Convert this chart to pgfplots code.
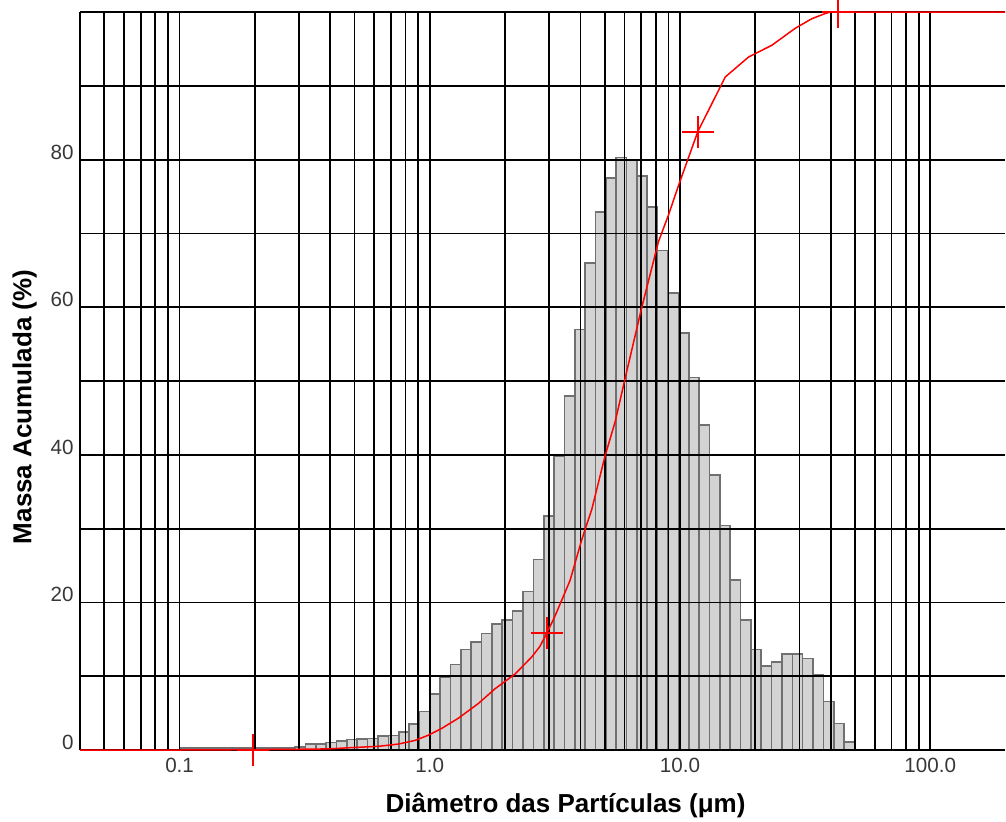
\documentclass[border=0pt]{standalone}
\usepackage{pgfplots}
\pgfplotsset{compat=1.18}
\usepackage{fontspec}
\setmainfont{Liberation Sans}
\definecolor{barfill}{RGB}{211,211,211}
\definecolor{baredge}{RGB}{112,112,112}
\definecolor{ticktext}{RGB}{55,55,55}
\begin{document}
\begin{tikzpicture}
\begin{axis}[
  set layers,
  xmode=log,
  scale only axis,
  width=462.5pt, height=369pt,
  xmin=0.04, xmax=199,
  ymin=0, ymax=100,
  axis x line*=bottom, axis y line*=left,
  axis line style={-, black, line width=0.9pt},
  xtick={0.1,1,10,100},
  xticklabels={0.1,1.0,10.0,100.0},
  minor xtick={0.05,0.06,0.07,0.08,0.09,0.2,0.3,0.4,0.5,0.6,0.7,0.8,0.9,2,3,4,5,6,7,8,9,20,30,40,50,60,70,80,90},
  ytick={0,10,20,30,40,50,60,70,80,90,100},
  yticklabels={0,,20,,40,,60,,80,,},
  grid=both,
  major grid style={black, line width=0.9pt},
  minor grid style={black, line width=0.9pt},
  major tick length=0pt, minor tick length=0pt,
  xticklabel style={font=\fontsize{10.3}{12}\selectfont, text=ticktext, anchor=north, inner sep=0pt, yshift=-4pt},
  yticklabel style={font=\fontsize{10.3}{12}\selectfont, text=ticktext, anchor=south east, inner sep=0pt, xshift=-3pt},
  xlabel={Diâmetro das Partículas (μm)},
  ylabel={Massa Acumulada (\%)},
  xlabel style={font=\fontsize{13}{15}\selectfont\bfseries, at={(axis description cs:0.525,0)}, anchor=north, inner sep=0pt, yshift=-21.5pt},
  ylabel style={font=\fontsize{13}{15}\selectfont\bfseries, at={(axis description cs:-0.0735,0.465)}, anchor=north, inner sep=0pt},
  clip=false,
]
\addplot[ybar interval, fill=barfill, draw=baredge, line width=0.8pt, on layer=axis background] coordinates {
(0.10153,0.3) (0.11168,0.3) (0.12285,0.3) (0.13513,0.3) (0.14864,0.3) (0.16351,0.3) (0.17986,0.3) (0.19784,0.3) (0.21763,0.3) (0.23939,0.3) (0.26333,0.3) (0.28966,0.4) (0.31863,0.8) (0.35049,0.8) (0.38554,1.0) (0.42410,1.25) (0.46651,1.45) (0.51316,1.5) (0.56447,1.55) (0.62092,1.9) (0.68301,1.95) (0.75131,2.4) (0.82645,3.5) (0.90909,5.2) (1,7.6) (1.1,9.8) (1.21,11.6) (1.331,13.6) (1.4641,14.6) (1.6105,15.8) (1.7716,17.1) (1.9487,17.6) (2.1436,18.8) (2.3579,21.5) (2.5937,25.8) (2.8531,31.7) (3.1384,39.8) (3.4523,48.0) (3.7975,57.0) (4.1772,66.0) (4.5950,72.9) (5.0545,77.5) (5.5599,80.3) (6.1159,79.9) (6.7275,77.8) (7.4003,73.6) (8.1403,67.7) (8.9543,61.9) (9.8497,56.5) (10.8347,50.5) (11.9182,44.0) (13.1100,37.3) (14.4210,30.4) (15.8631,23.0) (17.4494,17.6) (19.1943,13.6) (21.1138,11.4) (23.2252,11.9) (25.5477,13.0) (28.1024,13.0) (30.9127,12.4) (34.0039,10.2) (37.4043,6.6) (41.1448,3.6) (45.2593,1.1) (49.7852,0)
};
\addplot[red, line width=0.75pt] coordinates {
(0.04,0) (0.1,0) (0.197,0.05) (0.298,0.1) (0.393,0.15) (0.472,0.3) (0.622,0.5) (0.748,0.8) (0.873,1.3) (0.986,2.0) (1.112,2.9) (1.300,4.3) (1.563,6.3) (1.823,8.3) (2.192,10.3) (2.554,12.6) (2.750,14.0) (2.933,15.8) (3.150,18.0) (3.367,20.3) (3.638,23.0) (4.048,28.5) (4.439,32.6) (5.022,39.9) (5.507,44.5) (6.038,50.4) (7.035,60) (8.204,68.9) (8.995,72.5) (9.863,76.5) (11.78,83.8) (15.17,91.2) (18.79,93.9) (23.29,95.5) (28.89,97.8) (33.67,99.1) (38.09,99.8) (39.89,100) (199,100)
};
\addplot[draw=red, only marks, mark=+, mark size=8pt, mark options={draw=red, line width=1pt, solid}] coordinates {
(0.197,0) (2.933,15.8) (11.78,83.8) (42.8,100)
};
\coordinate (sw) at (rel axis cs:0,0);
\coordinate (ne) at (rel axis cs:1,1);
\end{axis}
\pgfresetboundingbox
\path[use as bounding box] ([xshift=-40pt,yshift=-35.5pt]sw) rectangle ([xshift=0.5pt,yshift=6pt]ne);
\end{tikzpicture}
\end{document}
